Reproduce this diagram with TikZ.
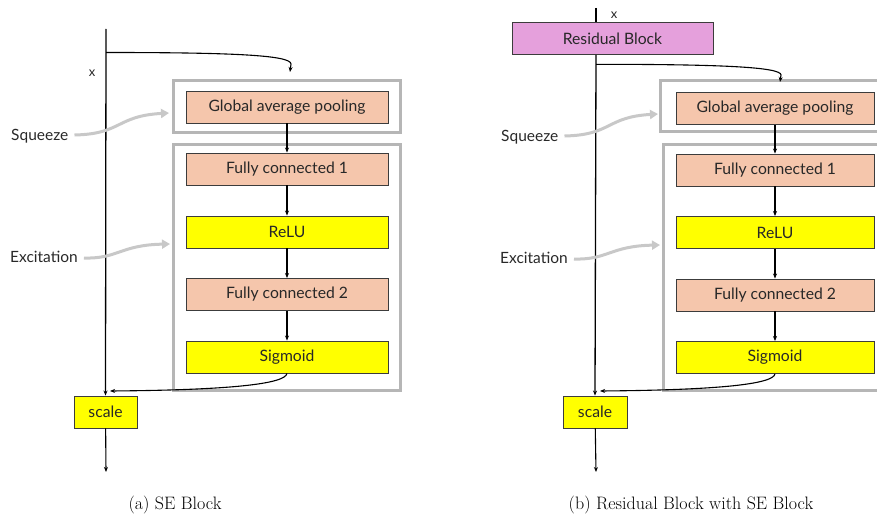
\documentclass[tikz,border=0pt]{standalone}
\usepackage{fontspec}
\setmainfont{Lato}
\usetikzlibrary{arrows.meta}
\definecolor{peach}{RGB}{245,198,172}
\definecolor{ylw}{RGB}{255,255,0}
\definecolor{pinkres}{RGB}{229,160,220}
\definecolor{outergray}{RGB}{182,182,182}
\definecolor{edgegray}{RGB}{60,60,60}
\definecolor{pointgray}{RGB}{200,200,200}
\definecolor{txt}{RGB}{40,40,40}
\tikzset{
  x=1pt, y=-1pt,
  lab/.style={font=\fontsize{15.5}{17}\selectfont, text=txt, inner sep=0pt},
  blk/.style={draw=edgegray, line width=0.9pt, minimum width=202pt, minimum height=32pt, inner sep=0pt, font=\fontsize{15.7}{17}\selectfont, text=txt},
  pk/.style={blk, fill=peach},
  yl/.style={blk, fill=ylw},
  outerbox/.style={draw=outergray, line width=3pt, inner sep=0pt},
  flow/.style={line width=1.1pt, -{Stealth[length=5pt,width=4pt]}},
  pointer/.style={draw=pointgray, line width=3pt, -{Triangle[length=8pt,width=9pt]}},
  captext/.style={font=\fontfamily{lmr}\fontsize{18}{21}\selectfont, inner sep=0pt},
}
\begin{document}
\begin{tikzpicture}
\clip (0,0) rectangle (877,519);
\fill[white] (0,0) rectangle (877,519);

% ---------------- (a) SE Block ----------------
\node[outerbox, minimum width=227pt, minimum height=52pt] (sqa) at (286.5,106) {};
\node[outerbox, minimum width=227pt, minimum height=246pt] (exa) at (286.5,267) {};
\node[pk] (gapa) at (287,107) {Global average pooling};
\node[pk] (fc1a) at (287,169) {Fully connected 1};
\node[yl] (relua) at (287,232) {ReLU};
\node[pk] (fc2a) at (287,294.5) {Fully connected 2};
\node[yl] (siga) at (287,357) {Sigmoid};
\node[yl, minimum width=63pt, minimum height=32pt] (scalea) at (105.5,412) {scale};

\coordinate (topa) at (106,29);
\coordinate (bra) at (106,52.5);
\coordinate (brenda) at (290,72);
\coordinate (joina) at (110,391);
\coordinate (outa) at (106,472);
\node[lab, font=\fontsize{13}{15}\selectfont] (xa) at (92,73) {x};

\draw[line width=1.3pt, -{Stealth[length=5pt,width=4pt]}] (topa) -- (scalea.north);
\draw[flow] (bra) .. controls (230,52.5) and (291,55) .. (291,64) -- (brenda);
\draw[flow] (gapa) -- (fc1a);
\draw[flow] (fc1a) -- (relua);
\draw[flow] (relua) -- (fc2a);
\draw[flow] (fc2a) -- (siga);
\draw[flow] (siga.south) .. controls (285,384) and (230,390) .. (joina);
\draw[flow] (scalea) -- (outa);

\node[lab, anchor=west] (sqla) at (11,136) {Squeeze};
\node[lab, anchor=west] (exla) at (10,257) {Excitation};
\draw[pointer] (sqla.east) ++(6,-1) .. controls (122,134) and (116,116) .. (169,113);
\draw[pointer] (exla.east) ++(6,1) .. controls (118,259) and (120,245) .. (170,244);

\node[captext] (capa) at (175,505) {(a) SE Block};

% ---------------- (b) Residual Block with SE Block ----------------
\node[outerbox, minimum width=227pt, minimum height=51pt] (sqb) at (774,105.5) {};
\node[outerbox, minimum width=225pt, minimum height=246pt] (exb) at (775.5,267.5) {};
\node[draw=edgegray, line width=0.9pt, fill=pinkres, minimum width=201pt, minimum height=32pt, inner sep=0pt, font=\fontsize{15.7}{17}\selectfont, text=txt] (resb) at (612.5,38.5) {Residual Block};
\node[pk, minimum width=198pt] (gapb) at (775,108.5) {Global average pooling};
\node[pk, minimum width=198pt] (fc1b) at (775,170) {Fully connected 1};
\node[yl, minimum width=198pt] (relub) at (775,232.5) {ReLU};
\node[pk, minimum width=198pt] (fc2b) at (775,295) {Fully connected 2};
\node[yl, minimum width=198pt] (sigb) at (775,357.5) {Sigmoid};
\node[yl, minimum width=64pt, minimum height=32pt] (scaleb) at (595,412) {scale};

\coordinate (topb) at (596,8);
\coordinate (brb) at (596,64.3);
\coordinate (brendb) at (780,82);
\coordinate (joinb) at (600,391);
\coordinate (outb) at (596,472);
\node[lab, font=\fontsize{13}{15}\selectfont] (xb) at (614,15) {x};

\draw[line width=1.3pt] (topb) -- (resb.north -| topb);
\draw[line width=1.3pt, -{Stealth[length=5pt,width=4pt]}] (resb.south -| topb) -- (scaleb.north);
\draw[flow] (brb) .. controls (720,64.3) and (781,67) .. (781,75) -- (brendb);
\draw[flow] (gapb) -- (fc1b);
\draw[flow] (fc1b) -- (relub);
\draw[flow] (relub) -- (fc2b);
\draw[flow] (fc2b) -- (sigb);
\draw[flow] (sigb.south) .. controls (773,384) and (720,390) .. (joinb);
\draw[flow] (scaleb) -- (outb);

\node[lab, anchor=west] (sqlb) at (501,137) {Squeeze};
\node[lab, anchor=west] (exlb) at (500,258) {Excitation};
\draw[pointer] (sqlb.east) ++(6,-1) .. controls (612,135) and (606,117) .. (658,114);
\draw[pointer] (exlb.east) ++(6,1) .. controls (608,260) and (610,246) .. (660,245);

\node[captext] (capb) at (691,505) {(b) Residual Block with SE Block};
\end{tikzpicture}
\end{document}
